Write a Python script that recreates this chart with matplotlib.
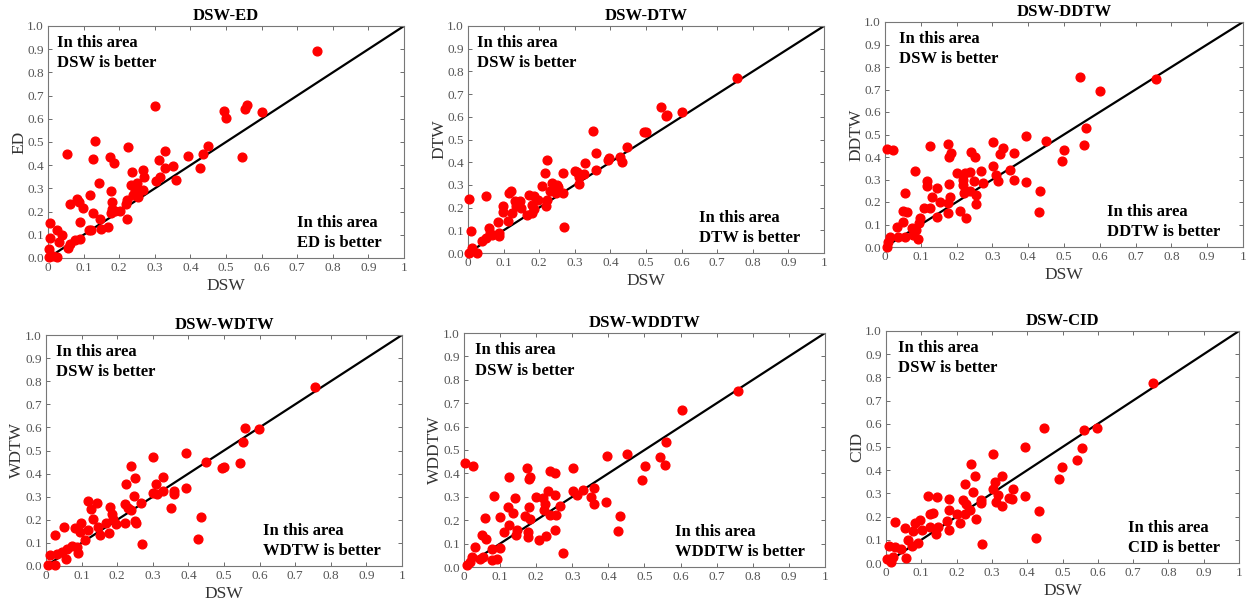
import matplotlib
matplotlib.use("Agg")
import matplotlib.pyplot as plt

plt.rcParams["font.family"] = ["Liberation Serif", "DejaVu Serif"]

# DSW vs ED
ed_x = [0.757, 0.301, 0.493, 0.501, 0.558, 0.554, 0.601, 0.544, 0.450, 0.434, 0.428, 0.393,
        0.350, 0.359, 0.328, 0.328, 0.313, 0.315, 0.302, 0.271, 0.266, 0.266, 0.236, 0.224,
        0.250, 0.234, 0.252, 0.222, 0.218, 0.221, 0.203, 0.187, 0.181, 0.180, 0.177, 0.175,
        0.184, 0.133, 0.143, 0.125, 0.125, 0.117, 0.145, 0.150, 0.168, 0.177, 0.114, 0.120,
        0.052, 0.081, 0.087, 0.063, 0.098, 0.091, 0.091, 0.076, 0.063, 0.056, 0.039, 0.025,
        0.031, 0.005, 0.007, 0.002, 0.003, 0.025, 0.015, 0.240, 0.245]
ed_y = [0.892, 0.655, 0.634, 0.602, 0.659, 0.641, 0.629, 0.437, 0.481, 0.450, 0.388, 0.440,
        0.398, 0.338, 0.461, 0.389, 0.421, 0.349, 0.330, 0.349, 0.381, 0.295, 0.369, 0.478,
        0.323, 0.316, 0.263, 0.249, 0.231, 0.170, 0.203, 0.203, 0.213, 0.243, 0.287, 0.435,
        0.411, 0.506, 0.323, 0.428, 0.195, 0.270, 0.170, 0.126, 0.132, 0.194, 0.119, 0.122,
        0.450, 0.254, 0.241, 0.231, 0.214, 0.155, 0.083, 0.076, 0.062, 0.042, 0.100, 0.119,
        0.069, 0.151, 0.088, 0.040, 0.004, 0.004, 0.010, 0.270, 0.290]

# DSW vs DTW
dtw_x = [0.756, 0.542, 0.555, 0.560, 0.602, 0.350, 0.493, 0.500, 0.448, 0.427, 0.432, 0.393,
         0.395, 0.359, 0.359, 0.329, 0.300, 0.306, 0.327, 0.313, 0.313, 0.266, 0.271, 0.221,
         0.217, 0.207, 0.235, 0.249, 0.253, 0.231, 0.248, 0.268, 0.221, 0.219, 0.198, 0.184,
         0.172, 0.179, 0.179, 0.165, 0.147, 0.133, 0.136, 0.121, 0.116, 0.123, 0.111, 0.098,
         0.098, 0.088, 0.084, 0.058, 0.051, 0.063, 0.050, 0.039, 0.009, 0.003, 0.011, 0.002,
         0.025, 0.067, 0.087, 0.150, 0.185]
dtw_y = [0.772, 0.644, 0.605, 0.608, 0.622, 0.536, 0.534, 0.533, 0.469, 0.425, 0.400, 0.410,
         0.420, 0.439, 0.366, 0.398, 0.363, 0.359, 0.348, 0.337, 0.303, 0.351, 0.113, 0.410,
         0.351, 0.297, 0.307, 0.300, 0.292, 0.271, 0.264, 0.264, 0.234, 0.209, 0.234, 0.249,
         0.256, 0.212, 0.176, 0.168, 0.231, 0.227, 0.205, 0.271, 0.264, 0.176, 0.139, 0.209,
         0.179, 0.088, 0.135, 0.110, 0.252, 0.088, 0.066, 0.054, 0.095, 0.239, 0.022, 0.000,
         0.000, 0.078, 0.076, 0.200, 0.195]

# DSW vs DDTW
ddtw_x = [0.757, 0.545, 0.601, 0.562, 0.555, 0.450, 0.501, 0.494, 0.433, 0.429, 0.394, 0.394,
          0.359, 0.359, 0.350, 0.331, 0.322, 0.301, 0.303, 0.310, 0.315, 0.275, 0.267, 0.252,
          0.240, 0.249, 0.254, 0.254, 0.238, 0.238, 0.224, 0.219, 0.219, 0.221, 0.200, 0.210,
          0.226, 0.177, 0.184, 0.180, 0.180, 0.177, 0.182, 0.177, 0.154, 0.144, 0.144, 0.126,
          0.118, 0.118, 0.132, 0.110, 0.126, 0.084, 0.056, 0.049, 0.062, 0.049, 0.098, 0.096,
          0.075, 0.087, 0.093, 0.079, 0.033, 0.056, 0.037, 0.014, 0.005, 0.023, 0.005, 0.009]
ddtw_y = [0.746, 0.754, 0.693, 0.528, 0.455, 0.470, 0.432, 0.381, 0.247, 0.156, 0.494, 0.288,
          0.420, 0.298, 0.343, 0.442, 0.414, 0.467, 0.362, 0.320, 0.294, 0.283, 0.338, 0.398,
          0.424, 0.294, 0.231, 0.190, 0.251, 0.335, 0.328, 0.298, 0.276, 0.239, 0.331, 0.162,
          0.131, 0.457, 0.420, 0.402, 0.279, 0.150, 0.224, 0.194, 0.202, 0.261, 0.135, 0.450,
          0.295, 0.272, 0.221, 0.172, 0.172, 0.340, 0.242, 0.162, 0.157, 0.113, 0.128, 0.108,
          0.083, 0.076, 0.034, 0.053, 0.088, 0.046, 0.046, 0.046, 0.435, 0.432, 0.000, 0.024]

# DSW vs WDTW
wdtw_x = [0.755, 0.558, 0.599, 0.554, 0.449, 0.493, 0.500, 0.544, 0.393, 0.393, 0.434, 0.427,
          0.359, 0.359, 0.351, 0.329, 0.329, 0.309, 0.301, 0.301, 0.311, 0.266, 0.271, 0.239,
          0.250, 0.248, 0.224, 0.239, 0.222, 0.231, 0.250, 0.253, 0.222, 0.198, 0.180, 0.184,
          0.189, 0.178, 0.168, 0.142, 0.118, 0.125, 0.133, 0.119, 0.147, 0.152, 0.109, 0.098,
          0.095, 0.081, 0.051, 0.025, 0.086, 0.089, 0.058, 0.056, 0.030, 0.011, 0.007, 0.025,
          0.044, 0.072]
wdtw_y = [0.777, 0.596, 0.593, 0.535, 0.449, 0.423, 0.430, 0.444, 0.491, 0.339, 0.210, 0.116,
          0.326, 0.311, 0.253, 0.384, 0.326, 0.353, 0.473, 0.318, 0.311, 0.271, 0.094, 0.434,
          0.382, 0.304, 0.357, 0.242, 0.268, 0.249, 0.194, 0.187, 0.184, 0.181, 0.256, 0.227,
          0.205, 0.145, 0.187, 0.271, 0.282, 0.245, 0.205, 0.155, 0.169, 0.133, 0.114, 0.188,
          0.148, 0.165, 0.169, 0.133, 0.082, 0.058, 0.075, 0.032, 0.054, 0.046, 0.003, 0.006,
          0.061, 0.085]

# DSW vs WDDTW
wddtw_x = [0.758, 0.603, 0.560, 0.543, 0.557, 0.502, 0.493, 0.451, 0.396, 0.393, 0.433, 0.426,
           0.359, 0.359, 0.351, 0.329, 0.313, 0.302, 0.301, 0.273, 0.267, 0.239, 0.253, 0.251,
           0.232, 0.220, 0.225, 0.222, 0.237, 0.256, 0.253, 0.228, 0.207, 0.200, 0.174, 0.184,
           0.179, 0.179, 0.184, 0.170, 0.176, 0.176, 0.142, 0.125, 0.121, 0.136, 0.124, 0.147,
           0.144, 0.112, 0.084, 0.101, 0.057, 0.050, 0.061, 0.031, 0.077, 0.101, 0.091, 0.077,
           0.054, 0.043, 0.022, 0.004, 0.024, 0.008, 0.016]
wddtw_y = [0.754, 0.671, 0.536, 0.469, 0.436, 0.433, 0.371, 0.481, 0.476, 0.279, 0.219, 0.153,
           0.336, 0.271, 0.300, 0.329, 0.307, 0.324, 0.424, 0.061, 0.261, 0.410, 0.400, 0.307,
           0.324, 0.293, 0.270, 0.243, 0.221, 0.224, 0.157, 0.131, 0.117, 0.300, 0.421, 0.386,
           0.374, 0.257, 0.207, 0.217, 0.150, 0.129, 0.293, 0.383, 0.257, 0.229, 0.179, 0.157,
           0.136, 0.150, 0.304, 0.214, 0.211, 0.136, 0.121, 0.086, 0.079, 0.083, 0.036, 0.031,
           0.043, 0.036, 0.043, 0.443, 0.433, 0.007, 0.020]

# DSW vs CID
cid_x = [0.757, 0.599, 0.560, 0.448, 0.556, 0.542, 0.499, 0.491, 0.393, 0.393, 0.433, 0.426,
         0.360, 0.358, 0.348, 0.329, 0.329, 0.308, 0.302, 0.302, 0.316, 0.313, 0.268, 0.273,
         0.240, 0.252, 0.247, 0.225, 0.219, 0.228, 0.238, 0.224, 0.254, 0.209, 0.200, 0.178,
         0.179, 0.179, 0.174, 0.145, 0.118, 0.125, 0.132, 0.125, 0.148, 0.143, 0.101, 0.096,
         0.082, 0.077, 0.090, 0.075, 0.054, 0.025, 0.061, 0.057, 0.042, 0.025, 0.009, 0.021,
         0.004, 0.013, 0.268]
cid_y = [0.778, 0.583, 0.573, 0.583, 0.494, 0.443, 0.412, 0.364, 0.501, 0.288, 0.223, 0.108,
         0.317, 0.278, 0.282, 0.376, 0.246, 0.350, 0.468, 0.321, 0.292, 0.263, 0.273, 0.083,
         0.426, 0.376, 0.306, 0.340, 0.271, 0.256, 0.227, 0.213, 0.191, 0.174, 0.213, 0.275,
         0.230, 0.144, 0.181, 0.285, 0.288, 0.213, 0.217, 0.155, 0.155, 0.127, 0.141, 0.184,
         0.173, 0.137, 0.088, 0.072, 0.151, 0.177, 0.101, 0.022, 0.062, 0.069, 0.073, 0.026,
         0.019, 0.004, 0.260]

panels = [
    ("DSW-ED", "ED", ed_x, ed_y, True, [48, 26, 404, 258], (0.025, 0.70)),
    ("DSW-DTW", "DTW", dtw_x, dtw_y, True, [468, 26, 824, 253], (0.025, 0.65)),
    ("DSW-DDTW", "DDTW", ddtw_x, ddtw_y, True, [885, 22, 1243, 247], (0.04, 0.62)),
    ("DSW-WDTW", "WDTW", wdtw_x, wdtw_y, True, [46, 335, 402, 566], (0.028, 0.61)),
    ("DSW-WDDTW", "WDDTW", wddtw_x, wddtw_y, False, [464, 333, 825, 567], (0.03, 0.585)),
    ("DSW-CID", "CID", cid_x, cid_y, True, [886, 331, 1239, 563], (0.034, 0.685)),
]

W, H = 1250, 606
fig = plt.figure(figsize=(W / 100, H / 100), dpi=100)

for title, name, xs, ys, show_xlabel, box, (tx_up, tx_low) in panels:
    x0, y0, x1, y1 = box
    ax = fig.add_axes([x0 / W, 1 - y1 / H, (x1 - x0) / W, (y1 - y0) / H])
    ax.plot([0, 1], [0, 1], color="black", lw=1.6, zorder=2)
    ax.plot(xs, ys, "o", color="#ff0000", ms=6.3, mec="#ff0000", zorder=3, clip_on=False)
    ax.set_xlim(0, 1)
    ax.set_ylim(0, 1)
    ax.set_xticks([i / 10 for i in range(11)])
    ax.set_xticklabels(["0"] + [f"{i / 10:.1f}" for i in range(1, 10)] + ["1"])
    ax.set_yticks([i / 10 for i in range(11)])
    ax.set_yticklabels([f"{i / 10:.1f}" for i in range(11)])
    ax.tick_params(direction="in", length=3, width=0.6, labelsize=9.5, colors="#555555",
                   top=True, right=True, pad=3)
    for sp in ax.spines.values():
        sp.set_color("#777777")
        sp.set_linewidth(0.8)
    ax.set_title(title, fontsize=12, fontweight="bold", pad=4)
    ax.set_ylabel(name, fontsize=12.5, color="#333333", labelpad=0)
    if show_xlabel:
        ax.set_xlabel("DSW", fontsize=12.5, color="#333333", labelpad=3)
    ax.text(tx_up, 0.96, "In this area\nDSW is better", transform=ax.transAxes,
            ha="left", va="top", fontsize=12, fontweight="bold", linespacing=1.35)
    ax.text(tx_low, 0.03, "In this area\n" + name + " is better", transform=ax.transAxes,
            ha="left", va="bottom", fontsize=12, fontweight="bold", linespacing=1.35)

fig.savefig("out.png", dpi=100)
